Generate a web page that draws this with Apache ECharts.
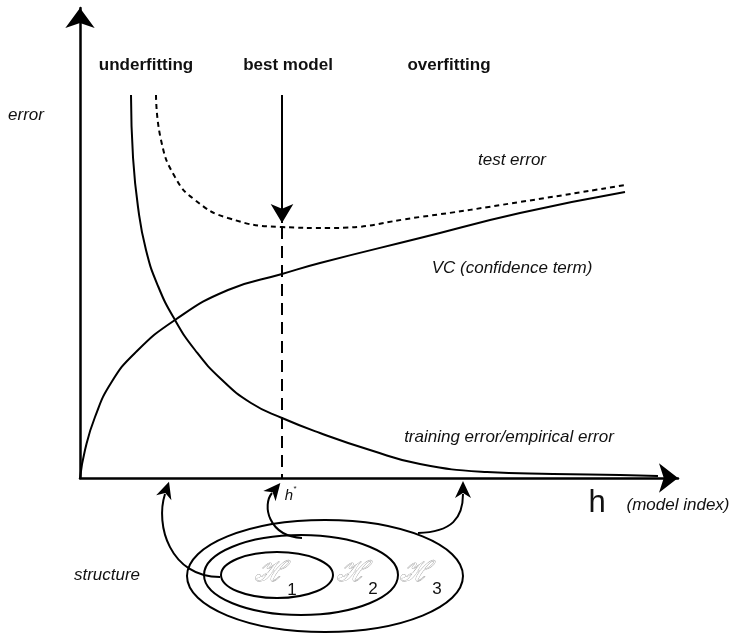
<!DOCTYPE html>
<html>
<head>
<meta charset="utf-8">
<script src="https://cdn.jsdelivr.net/npm/echarts@6/dist/echarts.min.js"></script>
<style>
  html, body { margin: 0; padding: 0; background: #fff; }
  #main { width: 731px; height: 633px; }
</style>
</head>
<body>
<div id="main"></div>
<script>
// model index h (x) and error values (y)
var trainX = [51, 53, 58, 66, 78, 95, 115, 141, 171, 202, 240, 290, 340, 407, 473, 540, 578];
var trainY = [383, 321, 271, 228, 192, 158, 128, 99, 75, 60, 45, 28, 14, 6, 4, 3, 2];

var vcX = [0, 5, 15, 31, 55, 95, 148, 202, 240, 340, 440, 545];
var vcY = [0, 28, 61, 95, 125, 158, 188, 204, 215, 240, 265, 286];

var testX = [76, 81, 95, 115, 148, 202, 248, 340, 440, 545];
var testY = [383, 338, 301, 278, 260, 251, 250, 261, 276, 293];

// best model h* and its arrow
var bestH = 202;
var bestTop = 383;
var bestTip = 255;
var bestErr = 251;

var zip = function (xs, ys) {
    var out = [];
    for (var i = 0; i < xs.length; i++) {
        out.push([xs[i], ys[i]]);
    }
    return out;
};

var chart = echarts.init(document.getElementById('main'));

var FONT = '"Liberation Sans", Arial, sans-serif';

function txt(text, x, y, style, size, extra) {
    var s = {
        text: text,
        x: x,
        y: y,
        textAlign: 'center',
        textVerticalAlign: 'middle',
        font: style + ' ' + size + 'px ' + FONT,
        fill: '#111'
    };
    if (extra) {
        for (var k in extra) s[k] = extra[k];
    }
    return { type: 'text', silent: true, style: s };
}

/* curved arrow: bezier + arrowhead */
function curveArrow(p0, p1, p2, p3) {
    var dx = p3[0] - p2[0], dy = p3[1] - p2[1];
    var len = Math.sqrt(dx * dx + dy * dy);
    dx /= len; dy /= len;
    var nx = -dy, ny = dx;
    var tip = [p3[0] + 13 * dx, p3[1] + 13 * dy];
    var back = [tip[0] - 17 * dx, tip[1] - 17 * dy];
    var notch = [tip[0] - 12 * dx, tip[1] - 12 * dy];
    return [{
        type: 'bezierCurve',
        silent: true,
        shape: { x1: p0[0], y1: p0[1], cpx1: p1[0], cpy1: p1[1], cpx2: p2[0], cpy2: p2[1], x2: p3[0], y2: p3[1] },
        style: { stroke: '#000', lineWidth: 2, fill: 'none' }
    }, {
        type: 'polygon',
        silent: true,
        shape: { points: [tip, [back[0] + 8 * nx, back[1] + 8 * ny], notch, [back[0] - 8 * nx, back[1] - 8 * ny]] },
        style: { fill: '#000' }
    }];
}

function ell(cx, cy, rx, ry) {
    return {
        type: 'ellipse',
        silent: true,
        shape: { cx: cx, cy: cy, rx: rx, ry: ry },
        style: { stroke: '#000', lineWidth: 2, fill: 'none' }
    };
}

var scriptH = { fill: '#fff', stroke: '#999', lineWidth: 0.8 };

var graphics = [
    txt('underfitting', 146, 65, 'bold', 17),
    txt('best model', 288, 65, 'bold', 17),
    txt('overfitting', 449, 65, 'bold', 17),
    txt('error', 26, 115, 'italic', 17),
    txt('test error', 512, 160, 'italic', 17),
    txt('VC (confidence term)', 512, 268, 'italic', 17),
    txt('training error/empirical error', 509, 437, 'italic', 17),
    txt('h', 597, 503, 'normal', 31),
    txt('(model index)', 678, 505, 'italic', 17),
    txt('structure', 107, 575, 'italic', 17),
    txt('h', 289, 496, 'italic', 15),
    txt('*', 295, 489, 'normal', 8),
    ell(325, 576, 138, 56),
    ell(301, 575, 97, 40),
    ell(277, 575, 56, 23),
    txt('\u210B', 270, 573, 'italic', 28, scriptH),
    txt('\u210B', 352, 573, 'italic', 28, scriptH),
    txt('\u210B', 415, 573, 'italic', 28, scriptH),
    txt('1', 292, 590, 'normal', 17),
    txt('2', 373, 589, 'normal', 17),
    txt('3', 437, 589, 'normal', 17)
];
graphics = graphics
    .concat(curveArrow([220, 577], [170, 577], [155, 525], [165, 494]))
    .concat(curveArrow([302, 538], [268, 536], [262, 505], [272, 493]))
    .concat(curveArrow([418, 533], [452, 532], [463, 518], [463, 494]));

var axisCommon = {
    type: 'value',
    min: 0,
    axisTick: { show: false },
    axisLabel: { show: false },
    splitLine: { show: false }
};

var option = {
    backgroundColor: '#fff',
    animation: false,
    grid: { left: 80, right: 53, top: 8, bottom: 155 },
    xAxis: echarts.util.merge({
        max: 598,
        axisLine: {
            show: true,
            symbol: ['none', 'arrow'],
            symbolSize: [22, 19],
            lineStyle: { color: '#000', width: 2.5 }
        }
    }, axisCommon),
    yAxis: echarts.util.merge({
        max: 470,
        axisLine: {
            show: true,
            symbol: ['none', 'arrow'],
            symbolSize: [22, 20],
            lineStyle: { color: '#000', width: 2.5 }
        }
    }, axisCommon),
    series: [{
        name: 'training error',
        type: 'line',
        smooth: 0.5,
        showSymbol: false,
        silent: true,
        lineStyle: { color: '#000', width: 2 },
        data: zip(trainX, trainY)
    }, {
        name: 'VC',
        type: 'line',
        smooth: 0.5,
        showSymbol: false,
        silent: true,
        lineStyle: { color: '#000', width: 2 },
        data: zip(vcX, vcY)
    }, {
        name: 'test error',
        type: 'line',
        smooth: 0.5,
        showSymbol: false,
        silent: true,
        lineStyle: { color: '#000', width: 2, type: [5, 4] },
        data: zip(testX, testY),
        markLine: {
            silent: true,
            animation: false,
            label: { show: false },
            symbolSize: [17, 19],
            data: [
                [{ coord: [bestH, bestTop], symbol: 'none', lineStyle: { color: '#000', width: 2, type: 'solid' } },
                 { coord: [bestH, bestTip], symbol: 'arrow' }],
                [{ coord: [bestH, bestErr], symbol: 'none', lineStyle: { color: '#000', width: 2, type: [12, 7] } },
                 { coord: [bestH, 0], symbol: 'none' }]
            ]
        }
    }],
    graphic: graphics
};

chart.setOption(option);
</script>
</body>
</html>
